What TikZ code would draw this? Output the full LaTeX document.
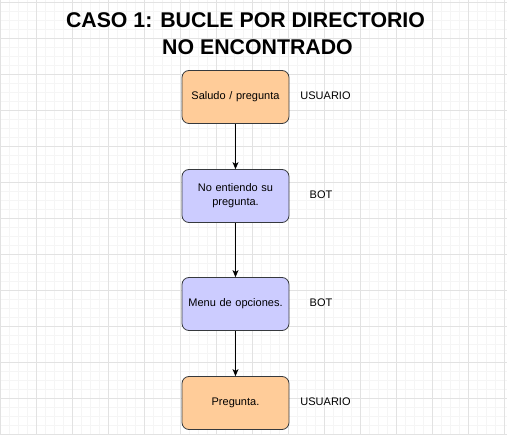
\documentclass[tikz,border=0pt]{standalone}
\usepackage{fontspec}
\setmainfont{Liberation Sans}
\usetikzlibrary{arrows.meta}

\definecolor{orangefill}{HTML}{FFCC99}
\definecolor{lilafill}{HTML}{CCCCFF}
\definecolor{randfarbe}{HTML}{36393D}
\definecolor{gitterhell}{HTML}{F5F5F5}
\definecolor{gitterdunkel}{HTML}{E2E2E2}

\tikzset{
  schritt/.style={draw=randfarbe, line width=0.8pt, rounded corners=7pt,
    minimum width=107pt, minimum height=53pt, text width=100pt, align=center,
    inner sep=0pt, font=\fontsize{11}{14}\selectfont},
  benutzer/.style={schritt, fill=orangefill},
  bot/.style={schritt, fill=lilafill},
  rolle/.style={font=\fontsize{11}{13}\selectfont},
  titel/.style={font=\bfseries\fontsize{21.3}{25}\selectfont},
  pfeil/.style={-{Stealth[length=7pt,width=6pt,inset=2pt]}, line width=0.8pt}
}

\begin{document}
\begin{tikzpicture}[x=1pt,y=-1pt]
    \useasboundingbox (0,0) rectangle (507,435);
    \fill[white] (0,0) rectangle (507,435);

    % Gitter im Hintergrund
    \foreach \x in {0.3,9.3,...,507} \draw[gitterhell, line width=0.6pt] (\x,0) -- (\x,435);
    \foreach \y in {2.3,11.3,...,435} \draw[gitterhell, line width=0.6pt] (0,\y) -- (507,\y);
    \foreach \x in {0.3,36.3,...,507} \draw[gitterdunkel, line width=0.8pt] (\x,0) -- (\x,435);
    \foreach \y in {2.3,38.3,...,435} \draw[gitterdunkel, line width=0.8pt] (0,\y) -- (507,\y);

    % Titel
    \node[titel] (titel1) at (245.5,20) {CASO 1: BUCLE POR DIRECTORIO};
    \node[titel] (titel2) at (257.5,47) {NO ENCONTRADO};

    % Schritte des Dialogs
    \node[benutzer] (s1) at (235.5,97) {Saludo / pregunta};
    \node[bot] (s2) at (235.5,196) {No entiendo su\\pregunta.};
    \node[bot] (s3) at (235.5,304) {Menu de opciones.};
    \node[benutzer] (s4) at (235.5,403) {Pregunta.};

    % Wer spricht
    \node[rolle] (r1) at (325.5,96) {USUARIO};
    \node[rolle] (r2) at (321,195) {BOT};
    \node[rolle] (r3) at (321,303) {BOT};
    \node[rolle] (r4) at (325.5,402) {USUARIO};

    % Pfeile zwischen den Schritten
    \draw[pfeil] (s1) -- (s2);
    \draw[pfeil] (s2) -- (s3);
    \draw[pfeil] (s3) -- (s4);
\end{tikzpicture}
\end{document}
